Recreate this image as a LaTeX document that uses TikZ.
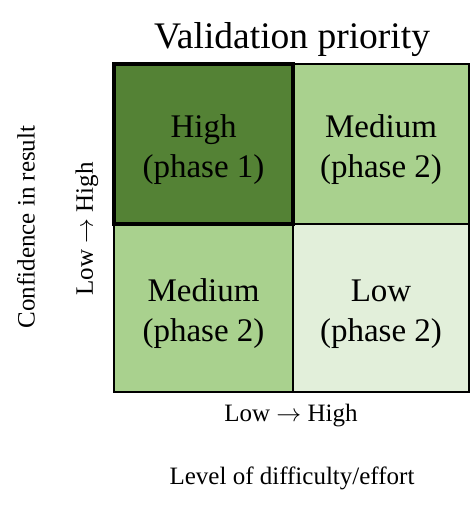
\documentclass[tikz,border=0pt]{standalone}
\usepackage{fontspec}
\setmainfont{Liberation Serif}
\definecolor{darkgreen}{HTML}{548235}
\definecolor{midgreen}{HTML}{A9D18E}
\definecolor{palegreen}{HTML}{E2EFDA}
\newcommand{\lowhigh}{Low \(\rightarrow\) High}
\begin{document}
\begin{tikzpicture}[x=1pt,y=-1pt,
  cell/.style={draw=black, line width=1.6pt, inner sep=0pt},
  celltext/.style={inner sep=0pt, align=center, yshift=-6pt,
    font=\fontsize{33}{40}\selectfont},
  axislabel/.style={inner sep=0pt, font=\fontsize{25}{28}\selectfont},
  titlelabel/.style={inner sep=0pt, font=\fontsize{37.5}{40}\selectfont}]
\useasboundingbox (0,0) rectangle (472,514);

% quadrant cells
\node[cell, fill=midgreen, minimum width=176pt, minimum height=160pt] (tr) at (381,144) {};
\node[cell, fill=midgreen, minimum width=179pt, minimum height=168pt] (bl) at (203.5,308) {};
\node[cell, fill=palegreen, minimum width=176pt, minimum height=168pt] (br) at (381,308) {};
% highlighted quadrant, heavy border drawn last
\node[cell, fill=darkgreen, line width=4.5pt, minimum width=179pt, minimum height=160pt] (tl) at (203.5,144) {};

% quadrant texts
\node[celltext] (tltext) at (tl.center) {High\\(phase 1)};
\node[celltext] (trtext) at (tr.center) {Medium\\(phase 2)};
\node[celltext] (bltext) at (bl.center) {Medium\\(phase 2)};
\node[celltext] (brtext) at (br.center) {Low\\(phase 2)};

% title and axis labels
\node[titlelabel] (title) at (292,40) {Validation priority};
\node[axislabel] (xscale) at (291,416) {\lowhigh};
\node[axislabel] (xname) at (292,478) {Level of difficulty/effort};
\node[axislabel, rotate=90] (yscale) at (87,229) {\lowhigh};
\node[axislabel, rotate=90] (yname) at (26,227) {Confidence in result};
\end{tikzpicture}
\end{document}
